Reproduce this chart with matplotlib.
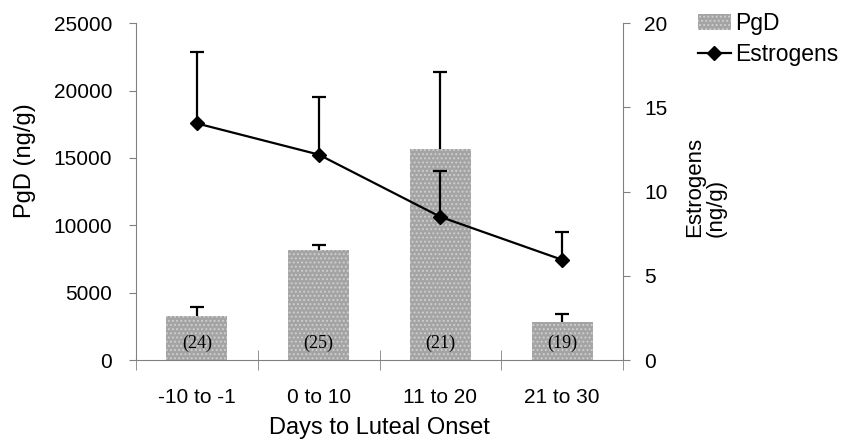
import numpy as np
import matplotlib.pyplot as plt
from matplotlib.lines import Line2D
from matplotlib.patches import Patch

categories = ["-10 to -1", "0 to 10", "11 to 20", "21 to 30"]
pgd = [3250, 8150, 15650, 2800]
pgd_err = [700, 350, 5750, 600]
counts = ["(24)", "(25)", "(21)", "(19)"]
estrogens = [14.05, 12.2, 8.5, 5.95]
estrogens_err = [4.25, 3.4, 2.7, 1.65]

plt.rcParams["font.family"] = ["Liberation Sans", "DejaVu Sans"]
plt.rcParams["font.size"] = 15
plt.rcParams["hatch.color"] = "#cfcfcf"
plt.rcParams["hatch.linewidth"] = 0.9

spine_col = "#808080"
bar_col = "#a4a4a4"


def upper_errors(axis, xs, ys, errs, z):
    # only the upper half of the error bar, as in the original
    tops = np.array(ys) + np.array(errs)
    axis.vlines(xs, ys, tops, color="black", linewidth=1.6, zorder=z)
    axis.plot(xs, tops, linestyle="none", marker="_", markersize=10,
              markeredgewidth=1.6, color="black", zorder=z)


fig = plt.figure(figsize=(8.42, 4.46), dpi=100)
ax = fig.add_axes([0.1615, 0.1928, 0.5785, 0.7552])
x = np.arange(len(categories))

upper_errors(ax, x, pgd, pgd_err, 1)
ax.bar(x, pgd, width=0.5, color=bar_col, hatch="....", linewidth=0, zorder=2)
for xi, c in zip(x, counts):
    ax.text(xi, 1250, c, ha="center", va="center", family="Liberation Serif",
            fontsize=13, zorder=3)

ax.set_xlim(-0.5, 3.5)
ax.set_ylim(0, 25000)
ax.set_yticks(np.arange(0, 25001, 5000))
ax.set_xticks(x)
ax.set_xticklabels(categories)
ax.set_xticks(np.arange(-0.5, 3.6, 1), minor=True)
ax.tick_params(axis="x", which="major", length=0, pad=20)
ax.tick_params(axis="x", which="minor", length=14, color=spine_col, direction="inout")
ax.tick_params(axis="y", length=5, color=spine_col, pad=12)
ax.spines["top"].set_visible(False)
ax.spines["right"].set_visible(False)
for s in ["left", "bottom"]:
    ax.spines[s].set_color(spine_col)
ax.set_ylabel("PgD (ng/g)", fontsize=17)
ax.yaxis.set_label_coords(-0.205, 0.593)
ax.set_xlabel("Days to Luteal Onset", fontsize=17, labelpad=7)

ax2 = ax.twinx()
upper_errors(ax2, x, estrogens, estrogens_err, 3)
ax2.plot(x, estrogens, color="black", marker="D", markersize=7.5, linewidth=1.6, zorder=4)
ax2.set_ylim(0, 20)
ax2.set_yticks(np.arange(0, 21, 5))
ax2.tick_params(axis="y", length=5, color=spine_col, pad=10)
for s in ["top", "left", "bottom"]:
    ax2.spines[s].set_visible(False)
ax2.spines["right"].set_color(spine_col)
fig.text(0.838, 0.469, "Estrogens\n(ng/g)", rotation=90, ha="center", va="bottom",
         multialignment="left", fontsize=16, linespacing=1.0)

handles = [Patch(facecolor=bar_col, hatch="....", linewidth=0),
           Line2D([0], [0], color="black", marker="D", markersize=7.5, linewidth=1.6)]
fig.legend(handles, ["PgD", "Estrogens"], loc="upper left",
           bbox_to_anchor=(0.805, 1.02), frameon=False, handlelength=1.4,
           handletextpad=0.2, labelspacing=0.35, fontsize=16.5)

fig.savefig("out.png", dpi=100)
